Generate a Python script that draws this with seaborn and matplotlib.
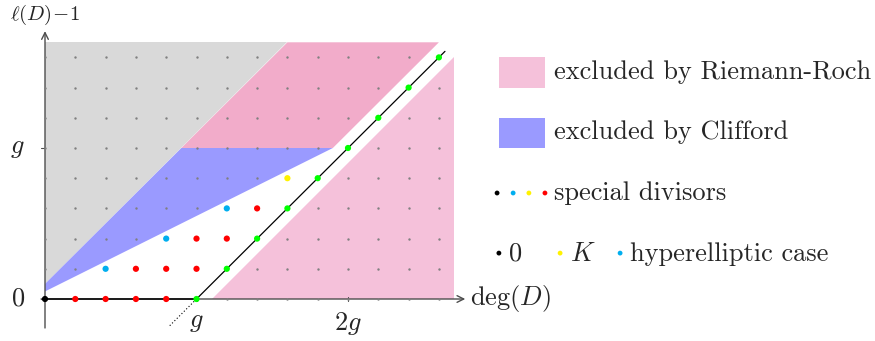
import numpy as np
import pandas as pd
import matplotlib.pyplot as plt
import seaborn as sns
from matplotlib.patches import Rectangle

# genus and lattice of (deg D, l(D)-1) points
g = 5
grid_deg = list(range(0, 14))
grid_r = list(range(0, 9))

# coloured divisors (deg, r)
black_pts = [(0, 0)]
red_pts = [(1, 0), (2, 0), (3, 0), (4, 0), (3, 1), (4, 1), (5, 1), (5, 2), (6, 2), (7, 3)]
cyan_pts = [(2, 1), (4, 2), (6, 3)]
yellow_pts = [(8, 4)]
green_pts = [(5, 0), (6, 1), (7, 2), (8, 3), (9, 4), (10, 5), (11, 6), (12, 7), (13, 8)]

# shaded regions (deg, r)
gray_region = [(0, 0.5), (0, 8.5), (8, 8.5)]
rr_upper = [(4.5, 5), (8, 8.5), (13, 8.5), (9.5, 5)]
rr_lower = [(5.5, 0), (13.5, 0), (13.5, 8)]
clifford_region = [(0, 0.25), (0, 0.5), (4.5, 5), (9.5, 5)]

GRAY = "#d9d9d9"
PINK_LIGHT = "#f5c1da"
PINK_DARK = "#f2acca"
BLUE = "#9a9aff"
COLORS = {"black": "black", "red": "#ff0000", "cyan": "#00aeef",
          "yellow": "#fff200", "green": "#00ff00"}

sns.set_theme(style="white")
plt.rcParams["mathtext.fontset"] = "cm"
plt.rcParams["font.family"] = ["cmr10", "DejaVu Serif"]
FS = 19

fig = plt.figure(figsize=(8.75, 3.41), dpi=100)
ax = fig.add_axes([0, 0, 1, 1])
ax.set_xlim(-45 / 30.3, 830 / 30.3)
ax.set_ylim(-42 / 30.2, 299 / 30.2)
ax.axis("off")

# regions
for poly, col in [(gray_region, GRAY), (rr_upper, PINK_DARK),
                  (rr_lower, PINK_LIGHT), (clifford_region, BLUE)]:
    xs, ys = zip(*poly)
    ax.fill(xs, ys, color=col, lw=0, zorder=1)

# axes
axcol = "#4d4d4d"
ax.annotate("", xy=(13.87, 0), xytext=(-0.13, 0),
            arrowprops=dict(arrowstyle="->", color=axcol, lw=1.0, shrinkA=0, shrinkB=0), zorder=3)
ax.annotate("", xy=(0, 8.87), xytext=(0, -0.96),
            arrowprops=dict(arrowstyle="->", color=axcol, lw=1.0, shrinkA=0, shrinkB=0), zorder=3)
for xt in [g, 2 * g]:
    ax.plot([xt, xt], [-0.07, 0.07], color=axcol, lw=0.8, zorder=3)
for yt in [0, g]:
    ax.plot([-0.13, 0], [yt, yt], color=axcol, lw=0.8, zorder=3)

# lattice points
lattice = pd.DataFrame([(d, r) for d in grid_deg for r in grid_r], columns=["deg", "r"])
sns.scatterplot(data=lattice, x="deg", y="r", color="#808080", s=3, linewidth=0,
                ax=ax, zorder=4, legend=False)

# non-special line and degree-0..g segment
line_x = [g, 13.2]
ax.plot(line_x, [x - g for x in line_x], color="black", lw=0.9, zorder=5)
ax.plot([g, 4.1], [0, -0.9], color="black", lw=0.8, ls=(0, (1, 2)), zorder=5)
ax.plot([0, g], [0, 0], color="black", lw=1.1, zorder=5)

# coloured divisors
rows = []
for name, pts in [("red", red_pts), ("cyan", cyan_pts), ("yellow", yellow_pts),
                  ("green", green_pts), ("black", black_pts)]:
    rows += [(d, r, name) for d, r in pts]
divisors = pd.DataFrame(rows, columns=["deg", "r", "kind"])
sns.scatterplot(data=divisors, x="deg", y="r", hue="kind", palette=COLORS, s=20,
                linewidth=0, ax=ax, zorder=6, legend=False)

# axis labels
ax.text(0, 9.4, r"$\ell(D)\!-\!1$", fontsize=FS - 4, ha="center", va="center")
ax.text(-0.9, g, r"$g$", fontsize=FS, ha="center", va="center")
ax.text(-0.9, 0, r"$0$", fontsize=FS, ha="center", va="center")
ax.text(g, -0.75, r"$g$", fontsize=FS, ha="center", va="center")
ax.text(2 * g, -0.8, r"$2g$", fontsize=FS, ha="center", va="center")
ax.text(14.03, 0, r"$\deg(D)$", fontsize=FS, ha="left", va="center")

# legend
ax.add_patch(Rectangle((15, 7), 1.5, 1.0, color=PINK_LIGHT, lw=0))
ax.add_patch(Rectangle((15, 5), 1.5, 1.0, color=BLUE, lw=0))
ax.text(16.8, 7.28, "excluded by Riemann-Roch", fontsize=FS, va="baseline")
ax.text(16.8, 5.3, "excluded by Clifford", fontsize=FS, va="baseline")

leg_dots = pd.DataFrame({"deg": [14.92, 15.45, 15.97, 16.5, 14.98, 17.0, 18.98],
                         "r": [3.51, 3.51, 3.51, 3.51, 1.52, 1.52, 1.52],
                         "kind": ["black", "cyan", "yellow", "red", "black", "yellow", "cyan"]})
sns.scatterplot(data=leg_dots, x="deg", y="r", hue="kind", palette=COLORS, s=12,
                linewidth=0, ax=ax, zorder=6, legend=False)
ax.text(16.8, 3.28, "special divisors", fontsize=FS, va="baseline")
ax.text(15.28, 1.27, r"$0$", fontsize=FS, va="baseline")
ax.text(17.33, 1.27, r"$K$", fontsize=FS, va="baseline")
ax.text(19.31, 1.27, "hyperelliptic case", fontsize=FS, va="baseline")

ax.set_xlim(-45 / 30.3, 830 / 30.3)
ax.set_ylim(-42 / 30.2, 299 / 30.2)
fig.savefig("out.png", dpi=100)
